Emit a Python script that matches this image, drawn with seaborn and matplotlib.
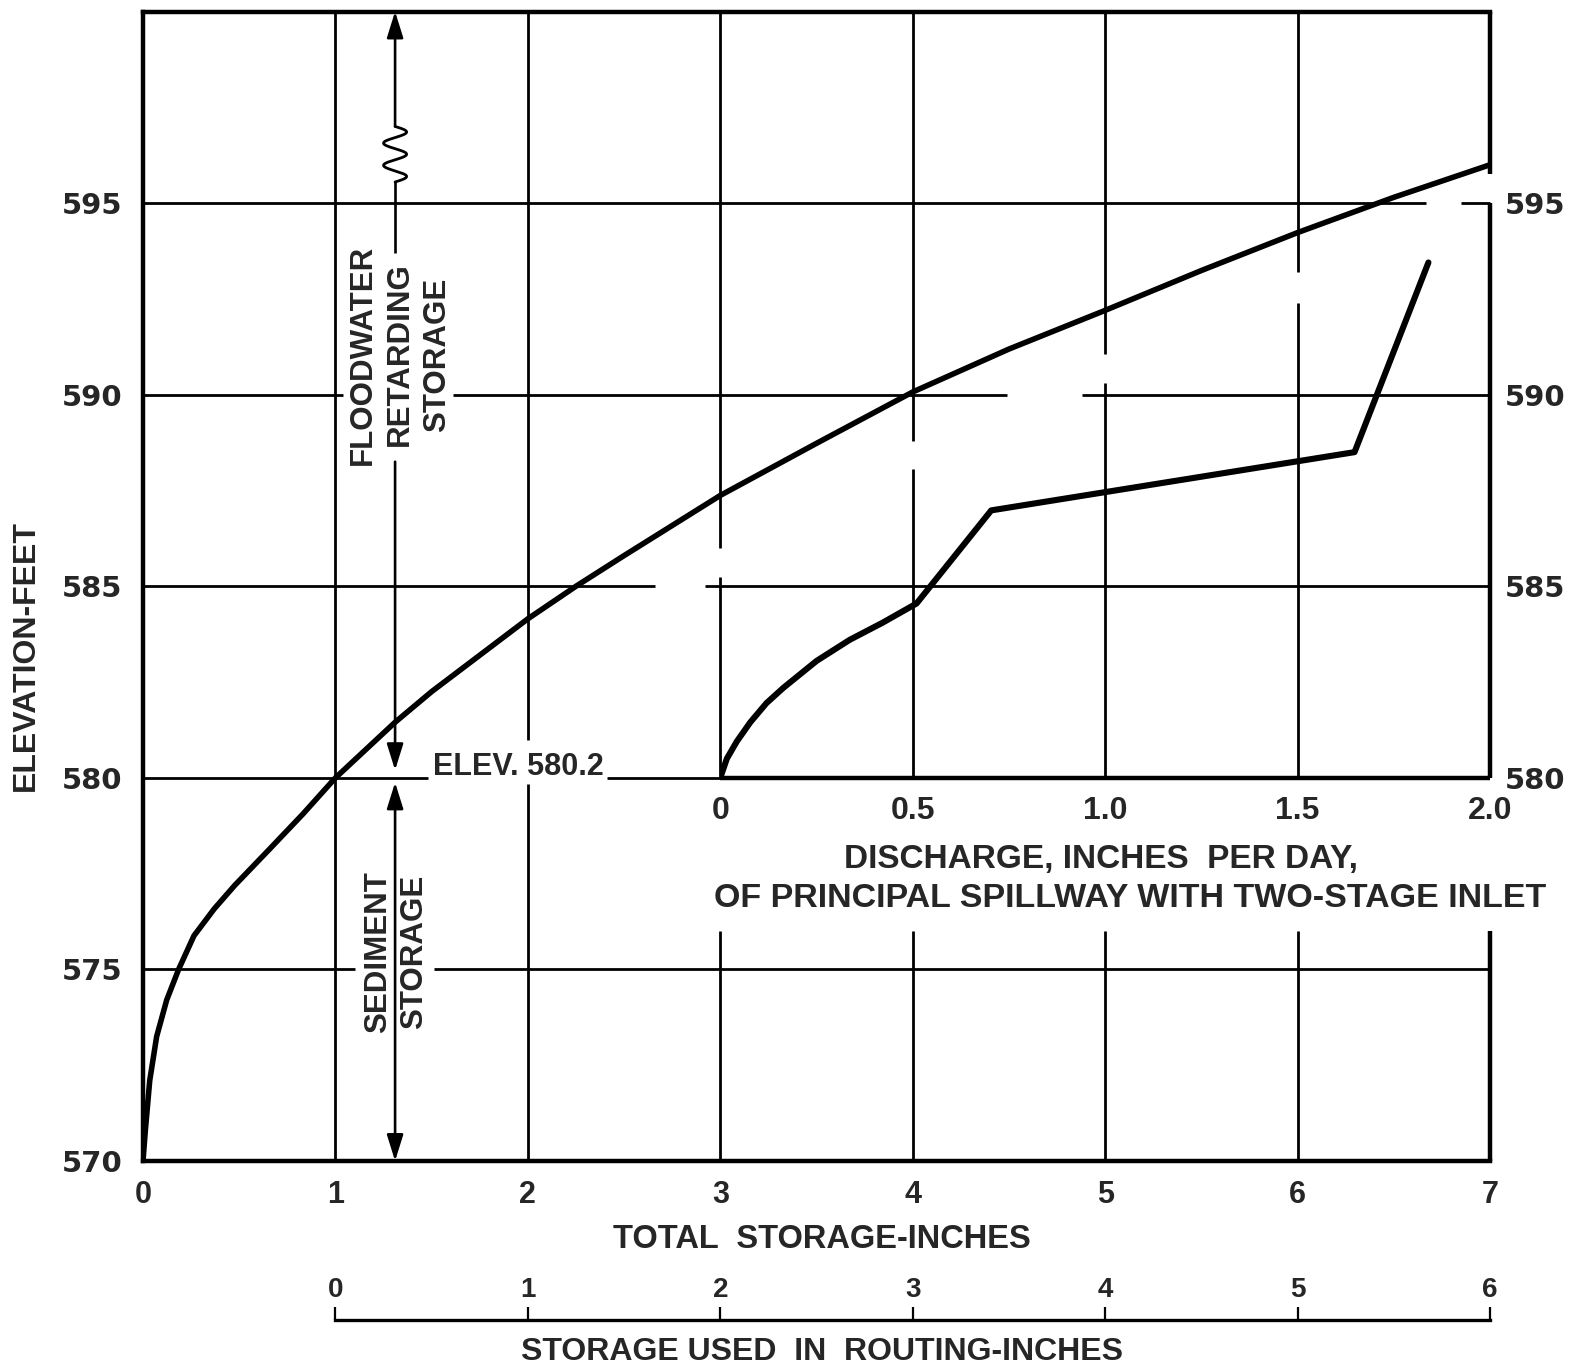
import numpy as np
import pandas as pd
import matplotlib
matplotlib.use("Agg")
import matplotlib.pyplot as plt
import seaborn as sns

# ---------------- data ----------------
# elevation - total storage curve
storage_inches = [0, 0.012, 0.035, 0.071, 0.123, 0.185, 0.265, 0.37, 0.476, 0.65, 0.83,
                  1.0, 1.31, 1.5, 2.0, 2.25, 2.5, 3.0, 3.5, 4.0, 4.5, 5.0, 5.5, 6.0, 6.5, 7.0]
storage_elev = [570, 570.79, 572.1, 573.25, 574.2, 575.0, 575.88, 576.58, 577.19, 578.1, 579.05,
                580.0, 581.45, 582.25, 584.15, 585.0, 585.8, 587.37, 588.73, 590.07, 591.19,
                592.2, 593.24, 594.23, 595.15, 596.0]

# elevation - discharge curve (principal spillway, two-stage inlet)
discharge_ipd = [0, 0.017, 0.043, 0.078, 0.12, 0.164, 0.25, 0.336, 0.422, 0.51, 0.704, 1.648, 1.84]
discharge_elev = [580, 580.5, 580.95, 581.45, 581.95, 582.35, 583.05, 583.6, 584.05, 584.55,
                  586.98, 588.5, 593.45]

total_ticks = [0, 1, 2, 3, 4, 5, 6, 7]
elev_ticks_left = [570, 575, 580, 585, 590, 595]
elev_ticks_right = [580, 585, 590, 595]
discharge_ticks = [0, 0.5, 1.0, 1.5, 2.0]
discharge_ticklabels = ["0", "0.5", "1.0", "1.5", "2.0"]
routing_ticks = [0, 1, 2, 3, 4, 5, 6]
sediment_top = 580.2

# ---------------- style ----------------
sns.set_theme(style="white")
plt.rcParams["font.family"] = ["Liberation Sans", "DejaVu Sans"]
plt.rcParams["font.weight"] = "bold"

W, H = 1575, 1368
fig = plt.figure(figsize=(W / 100, H / 100), dpi=100)
fig.patch.set_facecolor("white")

LEFT, RIGHT, TOP, BOTTOM = 143, 1490, 11.5, 1161
ax = fig.add_axes([LEFT / W, 1 - BOTTOM / H, (RIGHT - LEFT) / W, (BOTTOM - TOP) / H])
ax.set_facecolor("white")
ax.set_xlim(0, 7)
ax.set_ylim(570, 600)

GRID_LW = 2.0
FRAME_LW = 3.2
CURVE_LW = 4.0

# ---------- grid (hand-drafted, with gaps) ----------
h_grid = {
    575: [(0, 1.10), (1.51, 7)],
    580: [(0, 1.48), (2.41, 3.0)],
    585: [(0, 2.66), (2.92, 7)],
    590: [(0, 1.04), (1.61, 4.49), (4.88, 7)],
    595: [(0, 6.67), (6.85, 7)],
}
v_grid = {
    1: [(570, 600)],
    2: [(570, 579.85), (581.0, 600)],
    3: [(570, 576.0), (580, 585.25), (586.0, 600)],
    4: [(570, 576.0), (580, 588.05), (588.8, 600)],
    5: [(570, 576.0), (580, 590.3), (591.05, 600)],
    6: [(570, 576.0), (580, 592.4), (593.2, 600)],
}
right_edge = [(570, 576.0), (580, 595), (595.75, 600)]

for yv, segs in h_grid.items():
    for a, b in segs:
        ax.hlines(yv, a, b, color="black", lw=GRID_LW, clip_on=False, zorder=2)
for xv, segs in v_grid.items():
    for a, b in segs:
        ax.vlines(xv, a, b, color="black", lw=GRID_LW, clip_on=False, zorder=2)
for a, b in right_edge:
    ax.vlines(7, a, b, color="black", lw=FRAME_LW, clip_on=False, zorder=3)
# discharge scale base line
ax.hlines(580, 3, 7, color="black", lw=FRAME_LW, clip_on=False, zorder=3)

# frame
for s in ["left", "top", "bottom"]:
    ax.spines[s].set_visible(True)
    ax.spines[s].set_linewidth(FRAME_LW)
    ax.spines[s].set_color("black")
ax.spines["right"].set_visible(False)

# ---------- storage curve ----------
df_storage = pd.DataFrame({"total": storage_inches, "elev": storage_elev})
sns.lineplot(data=df_storage, x="total", y="elev", ax=ax, color="black", lw=CURVE_LW,
             sort=False, estimator=None, solid_capstyle="round", solid_joinstyle="round",
             zorder=5)

ax.set_xticks(total_ticks)
ax.set_yticks(elev_ticks_left)
ax.set_xlabel("")
ax.set_ylabel("")
ax.tick_params(axis="x", length=0, pad=14, labelsize=22)
ax.tick_params(axis="y", length=0, pad=15, labelsize=21)
for lab in ax.get_xticklabels():
    lab.set_fontweight("bold")
for lab in ax.get_yticklabels():
    lab.set_family(["DejaVu Sans"])
    lab.set_fontweight("bold")
ax.grid(False)

# ---------- annotations: storage zones ----------
AX_X = 1.31
arrow_kw = dict(arrowstyle="-|>,head_length=0.8,head_width=0.25", mutation_scale=20,
                color="black", lw=1.9, shrinkA=0, shrinkB=0)
# top arrow (to elev 600)
ax.annotate("", xy=(AX_X, 600), xytext=(AX_X, 597.0), arrowprops=arrow_kw, zorder=4)
# break squiggle
tt = np.linspace(0, 1, 300)
ax.plot(AX_X + 0.06 * np.sin(2 * np.pi * 2.5 * tt), 597.0 - 1.45 * tt,
        color="black", lw=2.0, zorder=4)
ax.vlines(AX_X, 593.7, 595.55, color="black", lw=1.9, zorder=4)
# down to sediment pool level
ax.annotate("", xy=(AX_X, sediment_top), xytext=(AX_X, 588.25), arrowprops=arrow_kw, zorder=4)
# sediment storage double arrow
arrow2 = dict(arrow_kw)
arrow2["arrowstyle"] = "<|-|>,head_length=0.8,head_width=0.25"
ax.annotate("", xy=(AX_X, 570), xytext=(AX_X, 579.88), arrowprops=arrow2, zorder=4)

ax.text(1.335, 591.05, "FLOODWATER\nRETARDING\nSTORAGE", rotation=90, ha="center",
        va="center", multialignment="center", linespacing=1.32, fontsize=22.5,
        fontweight="bold", zorder=6)
ax.text(1.315, 575.46, "SEDIMENT\nSTORAGE", rotation=90, ha="center", va="center",
        multialignment="center", linespacing=1.26, fontsize=22.5, fontweight="bold", zorder=6)
ax.text(1.505, 580.07, f"ELEV. {sediment_top}", ha="left", va="baseline", fontsize=22,
        fontweight="bold", zorder=6)

# ---------- discharge inset (shares elevation scale) ----------
fig.canvas.draw()
inv = fig.transFigure.inverted()
x0, y0 = inv.transform(ax.transData.transform((3, 580)))
x1, y1 = inv.transform(ax.transData.transform((7, 600)))
ax2 = fig.add_axes([x0, y0, x1 - x0, y1 - y0])
ax2.patch.set_alpha(0)
ax2.set_xlim(0, 2)
ax2.set_ylim(580, 600)
for s in ax2.spines.values():
    s.set_visible(False)
df_dis = pd.DataFrame({"discharge": discharge_ipd, "elev": discharge_elev})
sns.lineplot(data=df_dis, x="discharge", y="elev", ax=ax2, color="black", lw=CURVE_LW + 0.4,
             sort=False, estimator=None, solid_capstyle="round", solid_joinstyle="round",
             zorder=5)
ax2.set_xticks(discharge_ticks)
ax2.set_xticklabels(discharge_ticklabels)
ax2.yaxis.tick_right()
ax2.set_yticks(elev_ticks_right)
ax2.set_xlabel("")
ax2.set_ylabel("")
ax2.tick_params(axis="x", length=0, pad=13, labelsize=23)
ax2.tick_params(axis="y", length=0, pad=10.5, labelsize=21)
for lab in ax2.get_xticklabels():
    lab.set_fontweight("bold")
for lab in ax2.get_yticklabels():
    lab.set_family(["DejaVu Sans"])
    lab.set_fontweight("bold")
ax2.grid(False)

# ---------- storage used in routing scale ----------
xr0, _ = inv.transform(ax.transData.transform((1, 570)))
xr1, _ = inv.transform(ax.transData.transform((7, 570)))
yline = 1 - 1320 / H
ax3 = fig.add_axes([xr0, yline, xr1 - xr0, 1e-4])
ax3.patch.set_alpha(0)
ax3.set_xlim(0, 6)
for s in ["left", "right", "bottom"]:
    ax3.spines[s].set_visible(False)
ax3.spines["top"].set_visible(True)
ax3.spines["top"].set_linewidth(2.4)
ax3.spines["top"].set_color("black")
ax3.set_yticks([])
ax3.xaxis.tick_top()
ax3.set_xticks(routing_ticks)
ax3.tick_params(axis="x", direction="out", length=9.5, width=1.6, color="black",
                pad=2.5, labelsize=20)
for lab in ax3.get_xticklabels():
    lab.set_fontweight("bold")

# ---------- axis titles ----------
fig.text(25.5 / W, 1 - 655 / H, "ELEVATION-FEET", rotation=90, ha="center", va="center",
         fontsize=23, fontweight="bold")
fig.text(822 / W, 1 - 1248 / H, "TOTAL  STORAGE-INCHES", ha="center", va="baseline",
         fontsize=23.5, fontweight="bold")
fig.text(822 / W, 1 - 1360 / H, "STORAGE USED  IN  ROUTING-INCHES", ha="center",
         va="baseline", fontsize=23, fontweight="bold")
fig.text(1101 / W, 1 - 868 / H, "DISCHARGE, INCHES  PER DAY,", ha="center", va="baseline",
         fontsize=24, fontweight="bold")
fig.text(1130 / W, 1 - 907 / H, "OF PRINCIPAL SPILLWAY WITH TWO-STAGE INLET", ha="center",
         va="baseline", fontsize=24.5, fontweight="bold")

fig.savefig("out.png", dpi=100, facecolor="white")
